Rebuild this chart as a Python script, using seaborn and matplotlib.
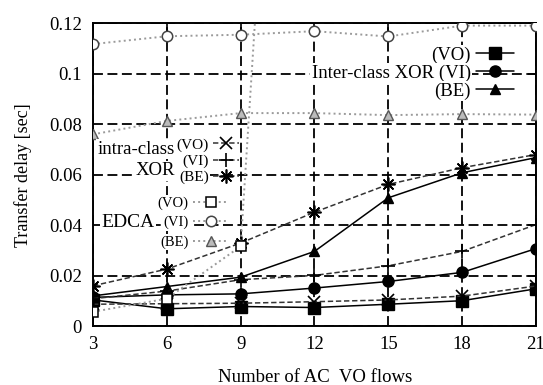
import numpy as np
import pandas as pd
import matplotlib
matplotlib.use("Agg")
import matplotlib.pyplot as plt
import seaborn as sns

# ---------------- data ----------------
flows = [3, 6, 9, 12, 15, 18, 21]
inter_vo = [0.0105, 0.0070, 0.0079, 0.0075, 0.0088, 0.0102, 0.0149]
inter_vi = [0.0115, 0.0125, 0.0129, 0.0152, 0.0178, 0.0214, 0.0308]
inter_be = [0.0121, 0.0158, 0.0195, 0.0297, 0.0509, 0.0608, 0.0668]
intra_vo = [0.0088, 0.0090, 0.0092, 0.0098, 0.0105, 0.0120, 0.0160]
intra_vi = [0.0110, 0.0140, 0.0185, 0.0202, 0.0240, 0.0297, 0.0403]
intra_be = [0.0161, 0.0227, 0.0330, 0.0452, 0.0562, 0.0628, 0.0680]
edca_vo = [0.0058, 0.0110, 0.0317, 0.49, np.nan, np.nan, np.nan]
edca_vi = [0.1117, 0.1148, 0.1154, 0.1168, 0.1147, 0.1190, 0.1190]
edca_be = [0.0760, 0.0813, 0.0844, 0.0844, 0.0836, 0.0840, 0.0838]

y_ticks = [0, 0.02, 0.04, 0.06, 0.08, 0.1, 0.12]
y_tick_labels = ["0", "0.02", "0.04", "0.06", "0.08", "0.1", "0.12"]
x_label = "Number of AC  VO flows"
y_label = "Transfer delay [sec]"

series = {
    "inter_vo": inter_vo, "inter_vi": inter_vi, "inter_be": inter_be,
    "intra_vo": intra_vo, "intra_vi": intra_vi, "intra_be": intra_be,
    "edca_vo": edca_vo, "edca_vi": edca_vi, "edca_be": edca_be,
}
df = pd.concat(
    [pd.DataFrame({"flows": flows, "delay": v, "series": k}) for k, v in series.items()],
    ignore_index=True,
)

# ---------------- styles ----------------
gray = "#9a9a9a"
styles = {
    "inter_vo": dict(color="black", ls="-", lw=1.1, marker="s", ms=8.5, mfc="black", mec="black", mew=1),
    "inter_vi": dict(color="black", ls="-", lw=1.1, marker="o", ms=8.0, mfc="black", mec="black", mew=1),
    "inter_be": dict(color="black", ls="-", lw=1.1, marker="^", ms=7.5, mfc="black", mec="black", mew=1),
    "intra_vo": dict(color="#333333", ls=(0, (3.5, 1.8)), lw=1.1, marker="x", ms=8, mfc="none", mec="black", mew=1.2),
    "intra_vi": dict(color="#333333", ls=(0, (3.5, 1.8)), lw=1.1, marker="+", ms=10, mfc="none", mec="black", mew=1.2),
    "intra_be": dict(color="#333333", ls=(0, (3.5, 1.8)), lw=1.1, marker=(8, 2, 0), ms=10, mfc="none", mec="black", mew=1.2),
    "edca_vo": dict(color=gray, ls=":", lw=1.4, marker="s", ms=7.5, mfc="white", mec="black", mew=1.1),
    "edca_vi": dict(color=gray, ls=":", lw=1.4, marker="o", ms=7.5, mfc="white", mec="#444444", mew=1.1),
    "edca_be": dict(color=gray, ls=":", lw=1.4, marker="^", ms=7, mfc="#bbbbbb", mec="#555555", mew=1.0),
}

sns.set_theme(style="white")
plt.rcParams["font.family"] = ["Liberation Serif", "DejaVu Serif"]

fig = plt.figure(figsize=(5.43, 3.85), dpi=100)
ax = fig.add_axes([0.1713, 0.152, 0.8157, 0.788])

for name in series:
    sub = df[df["series"] == name]
    st = styles[name]
    sns.lineplot(
        data=sub, x="flows", y="delay", ax=ax, label=name,
        color=st["color"], linestyle=st["ls"], linewidth=st["lw"],
        marker=st["marker"], markersize=st["ms"], markerfacecolor=st["mfc"],
        markeredgecolor=st["mec"], markeredgewidth=st["mew"], zorder=3,
    )

ax.set_xlim(3, 21)
ax.set_ylim(0, 0.12)
ax.set_xticks(flows)
ax.set_xticklabels([str(f) for f in flows])
ax.set_yticks(y_ticks)
ax.set_yticklabels(y_tick_labels)

ax.grid(True, color="black", linestyle=(0, (5.5, 2.5)), linewidth=1.3)
ax.set_axisbelow(True)
for sp in ax.spines.values():
    sp.set_color("black")
    sp.set_linewidth(1.4)
    sp.set_visible(True)
ax.tick_params(direction="in", length=6, width=1.2, top=True, right=True,
               labelsize=13.5, colors="black", pad=7)
ax.tick_params(axis="y", pad=8)

ax.set_xlabel(x_label, fontsize=13.5, color="black")
ax.set_ylabel(y_label, fontsize=13, color="black")
ax.xaxis.set_label_coords(0.501, -0.14)
ax.yaxis.set_label_coords(-0.138, 0.5)

handles, labels = ax.get_legend_handles_labels()
hmap = dict(zip(labels, handles))
if ax.get_legend() is not None:
    ax.get_legend().remove()

common = dict(frameon=False, markerfirst=False, borderpad=0, borderaxespad=0,
              handletextpad=0.3, numpoints=1)

leg1 = ax.legend([hmap["inter_vo"], hmap["inter_vi"], hmap["inter_be"]],
                 ["(VO)", "Inter-class XOR (VI)", "(BE)"],
                 loc="center right", bbox_to_anchor=(0.95, 0.835),
                 fontsize=13.5, handlelength=2.0, labelspacing=0.05, **common)
ax.add_artist(leg1)

leg2 = ax.legend([hmap["intra_vo"], hmap["intra_vi"], hmap["intra_be"]],
                 ["(VO)", "(VI)", "(BE)"],
                 loc="center right", bbox_to_anchor=(0.33, 0.545),
                 fontsize=11, handlelength=1.7, labelspacing=0.15, **common)
ax.add_artist(leg2)

leg3 = ax.legend([hmap["edca_vo"], hmap["edca_vi"], hmap["edca_be"]],
                 ["(VO)", "(VI)", "(BE)"],
                 loc="center right", bbox_to_anchor=(0.305, 0.342),
                 fontsize=10.5, handlelength=2.4, labelspacing=0.4, **common)

white_box = dict(facecolor="white", edgecolor="none", pad=1.0)
for lg in (leg1, leg2, leg3):
    lg.set_zorder(5)
    for t in lg.get_texts():
        t.set_color("black")
        t.set_bbox(white_box)

ax.text(0.185, 0.585, "intra-class", transform=ax.transAxes, ha="right", va="center",
        fontsize=13.5, color="black", bbox=white_box, zorder=5)
ax.text(0.185, 0.513, "XOR", transform=ax.transAxes, ha="right", va="center",
        fontsize=13.5, color="black", bbox=white_box, zorder=5)
ax.text(0.14, 0.343, "EDCA", transform=ax.transAxes, ha="right", va="center",
        fontsize=14, color="black", bbox=white_box, zorder=5)

fig.savefig("out.png", dpi=100)
